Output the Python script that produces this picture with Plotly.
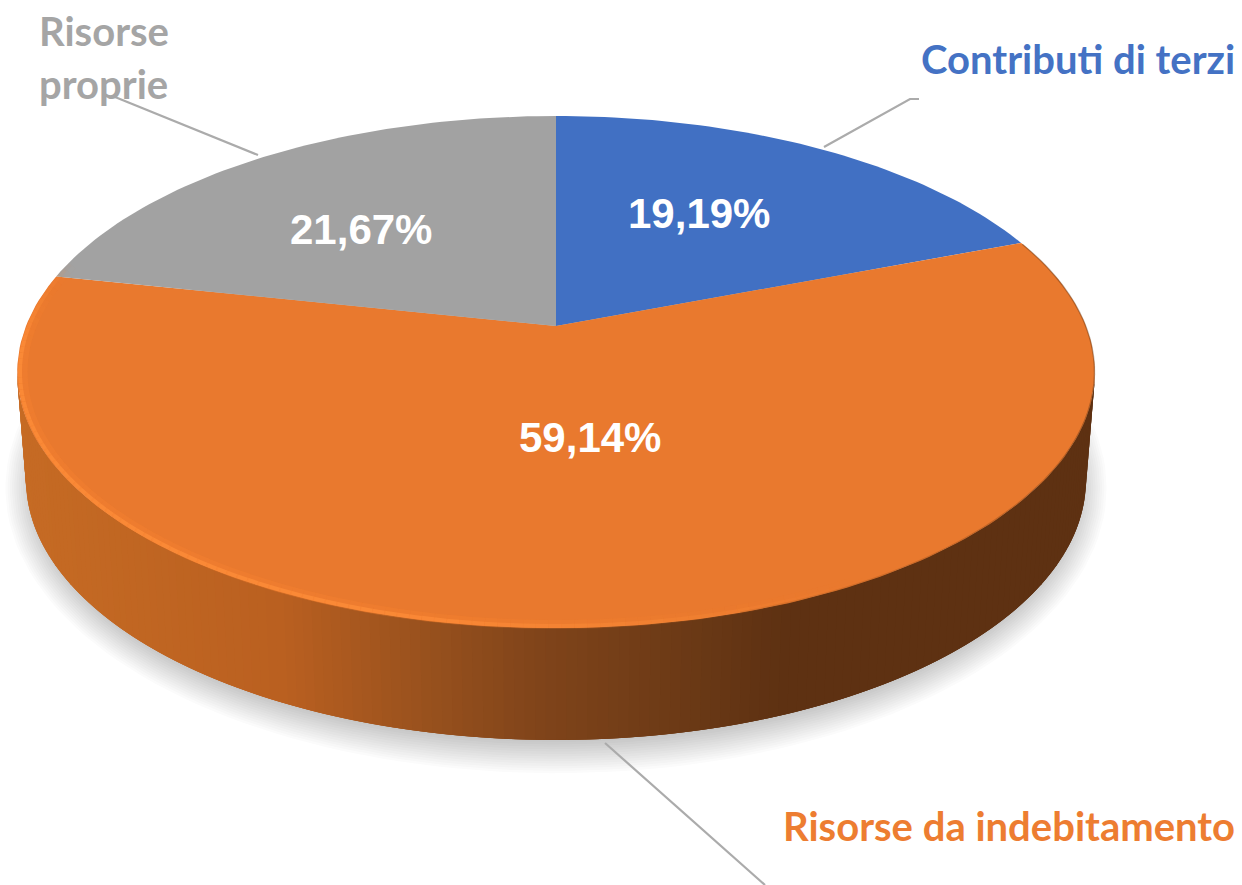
import numpy as np
import plotly.graph_objects as go

# Dati (senso orario da ore 12)
categories = ["Contributi di terzi", "Risorse da indebitamento", "Risorse proprie"]
values = [19.19, 59.14, 21.67]
face_colors = ["#4170C3", "#E9792E", "#A2A2A2"]
text_colors = ["#4472C4", "#ED7D31", "#A5A5A5"]

# Gradiente del bordo laterale
side_stops_x = [20, 300, 420, 560, 700, 800, 1100]
side_stops_rgb = [
    (198, 107, 36),
    (186, 96, 32),
    (158, 84, 30),
    (128, 68, 26),
    (108, 58, 22),
    (94, 49, 18),
    (94, 49, 18),
]

# Geometria della torta in prospettiva (coordinate immagine)
CX, CY = 556, 326
RX, RY, PERSP = 530, 247.8, 0.18
TOP_CY, TOP_A, TOP_B = 372, 539, 256
BOT_CY, BOT_A, BOT_B = 480, 530, 260


def project(deg):
    """Punto del cerchio (gradi orari da ore 12) proiettato sulla faccia superiore."""
    t = np.radians(deg)
    px, py = np.sin(t), np.cos(t)
    w = 1 + PERSP * py
    return CX + RX * px / w, CY - RY * py / w


def side_color(x):
    rgb = [np.interp(x, side_stops_x, [s[i] for s in side_stops_rgb]) for i in range(3)]
    return f"rgb({rgb[0]:.0f},{rgb[1]:.0f},{rgb[2]:.0f})"


def add_poly(fig, xs, ys, color):
    fig.add_trace(
        go.Scatter(
            x=xs,
            y=ys,
            mode="lines",
            fill="toself",
            fillcolor=color,
            line=dict(width=0, color=color),
            hoverinfo="skip",
            showlegend=False,
        )
    )


def add_rim_segment(fig, t0, t1, inset_a, inset_b, width, color):
    ts = np.radians([t0, t1])
    fig.add_trace(
        go.Scatter(
            x=556 + (TOP_A - inset_a) * np.cos(ts),
            y=TOP_CY + (TOP_B - inset_b) * np.sin(ts),
            mode="lines",
            line=dict(width=width, color=color),
            hoverinfo="skip",
            showlegend=False,
        )
    )


fig = go.Figure()

# Ombra morbida
for k in range(14):
    t = np.linspace(0, 2 * np.pi, 180)
    add_poly(
        fig,
        556 + (522 + k * 2.2) * np.cos(t),
        BOT_CY + 8 + (254 + k * 2.4) * np.sin(t),
        "rgba(60,60,60,0.018)",
    )

# Bordo laterale a strisce: ogni striscia copre un po' la successiva, niente giunture
edges = np.linspace(np.pi, 0, 161)
for i in range(len(edges) - 1):
    t0, t1 = edges[i], edges[max(i - 2, 0)]
    t2 = edges[i + 1]
    xs = [
        556 + TOP_A * np.cos(t1),
        556 + TOP_A * np.cos(t0),
        556 + TOP_A * np.cos(t2),
        556 + BOT_A * np.cos(t2),
        556 + BOT_A * np.cos(t0),
        556 + BOT_A * np.cos(t1),
    ]
    ys = [
        TOP_CY + TOP_B * np.sin(t1),
        TOP_CY + TOP_B * np.sin(t0),
        TOP_CY + TOP_B * np.sin(t2),
        BOT_CY + BOT_B * np.sin(t2),
        BOT_CY + BOT_B * np.sin(t0),
        BOT_CY + BOT_B * np.sin(t1),
    ]
    add_poly(fig, xs, ys, side_color(556 + 535 * np.cos((t0 + t2) / 2)))

# Fette della faccia superiore
start = 0.0
for value, color in zip(values, face_colors):
    end = start + value * 3.6
    angles = np.linspace(start, end, max(int(value * 3), 4))
    rim = [project(a) for a in angles]
    add_poly(fig, [CX] + [p[0] for p in rim] + [CX], [CY] + [p[1] for p in rim] + [CY], color)
    start = end

# Bordo scuro sfumato a destra
edges = np.linspace(-30, 70, 50)
for t0, t1 in zip(edges[:-1], edges[1:]):
    mid = (t0 + t1) / 2
    alpha = 0.4 if mid < 15 else 0.4 * max(0.4, 1 - (mid - 15) / 70)
    add_rim_segment(fig, t0, t1, 0.5, 0.5, 1.4, f"rgba(90,48,18,{alpha:.2f})")

# Riflesso chiaro sul bordo anteriore sinistro
edges = np.linspace(55, 205, 110)
for t0, t1 in zip(edges[:-1], edges[1:]):
    mid = (t0 + t1) / 2
    fade = min(1, (mid - 55) / 55) * (1 if mid < 185 else max(0, (205 - mid) / 20))
    add_rim_segment(fig, t0, t1, 6, 3.5, 9, f"rgba(250,132,48,{0.35 * fade:.2f})")
    add_rim_segment(fig, t0, t1, 3, 2, 4, f"rgba(253,140,56,{0.8 * fade:.2f})")

# Linee guida delle etichette
leader_lines = [
    ([824, 910, 919], [147, 99, 99]),
    ([605, 765], [743, 885]),
    ([115, 258], [97, 155]),
]
for xs, ys in leader_lines:
    fig.add_trace(
        go.Scatter(
            x=xs,
            y=ys,
            mode="lines",
            line=dict(width=2.2, color="#ABABAB"),
            hoverinfo="skip",
            showlegend=False,
        )
    )

# Percentuali sulle fette
pct_positions = [(699, 213), (590, 437), (361, 229)]
for value, (x, y) in zip(values, pct_positions):
    fig.add_annotation(
        x=x,
        y=y,
        text=f"{value:.2f}".replace(".", ",") + "%",
        showarrow=False,
        font=dict(family="Liberation Sans", size=42, color="white", weight="bold"),
    )

# Etichette di categoria
label_font = dict(family="Lato", size=40, weight="bold")
fig.add_annotation(
    x=1237, y=59, text=categories[0], showarrow=False, xanchor="right",
    font=dict(label_font, color=text_colors[0]),
)
fig.add_annotation(
    x=1237, y=826, text=categories[1], showarrow=False, xanchor="right",
    font=dict(label_font, color=text_colors[1]),
)
for word, y in zip(categories[2].split(), [31, 84]):
    fig.add_annotation(
        x=37, y=y, text=word, showarrow=False, xanchor="left",
        font=dict(label_font, color=text_colors[2]),
    )

fig.update_layout(
    width=1242,
    height=885,
    margin=dict(l=0, r=0, t=0, b=0),
    paper_bgcolor="white",
    plot_bgcolor="white",
    showlegend=False,
)
fig.update_xaxes(range=[0, 1242], visible=False)
fig.update_yaxes(range=[885, 0], visible=False)

fig.write_html(
    "out.html",
    config=dict(displayModeBar=False),
    post_script="document.body.style.margin='0';document.body.style.overflow='hidden';",
)
